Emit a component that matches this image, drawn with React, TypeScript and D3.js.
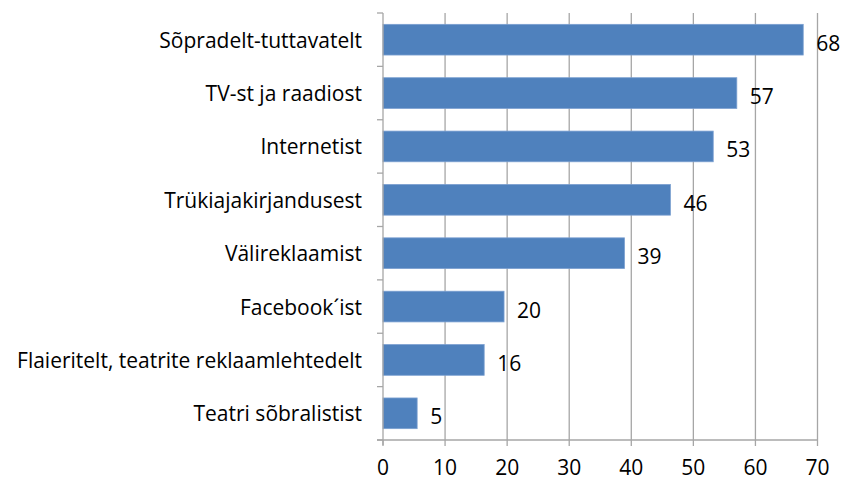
import React from "react";
import * as d3 from "d3";

const categories = [
  "Sõpradelt-tuttavatelt",
  "TV-st ja raadiost",
  "Internetist",
  "Trükiajakirjandusest",
  "Välireklaamist",
  "Facebook´ist",
  "Flaieritelt, teatrite reklaamlehtedelt",
  "Teatri sõbralistist",
];
const values = [67.7, 57.0, 53.2, 46.3, 38.9, 19.5, 16.3, 5.5];
const valueLabels = ["68", "57", "53", "46", "39", "20", "16", "5"];
const xTicks = [0, 10, 20, 30, 40, 50, 60, 70];

const W = 842;
const H = 481;
const left = 383;
const right = 817.5;
const top = 13;
const bottom = 440;
const font = "'Open Sans', sans-serif";
const fs = 21;

export default function App() {
  const x = d3.scaleLinear().domain([0, 70]).range([left, right]);
  const y = d3
    .scaleBand<string>()
    .domain(categories)
    .range([top, bottom])
    .paddingInner(0.425)
    .paddingOuter(0.2125);
  const step = y.step();
  const boundaries = d3.range(categories.length + 1).map((i) => top + i * step);

  return (
    <div style={{ position: "absolute", left: 0, top: 0 }}>
      <svg width={W} height={H} style={{ display: "block", background: "#fff" }}>
        {xTicks.slice(1).map((t) => (
          <line key={"g" + t} x1={x(t)} x2={x(t)} y1={top} y2={bottom} stroke="#a6a6a6" strokeWidth={1.3} />
        ))}
        {categories.map((c, i) => (
          <rect
            key={c}
            x={x(0)}
            y={y(c)!}
            width={x(values[i]) - x(0)}
            height={y.bandwidth()}
            fill="#4f81bd"
            stroke="#7a9fd0"
            strokeWidth={0.8}
          />
        ))}
        <line x1={left} x2={left} y1={top} y2={bottom + 5} stroke="#a6a6a6" strokeWidth={1.3} />
        {boundaries.map((b, i) => (
          <line key={"yt" + i} x1={left - 6} x2={left} y1={b} y2={b} stroke="#a6a6a6" strokeWidth={1.3} />
        ))}
        <line x1={left - 6} x2={right} y1={bottom} y2={bottom} stroke="#a6a6a6" strokeWidth={1.3} />
        {xTicks.map((t) => (
          <line key={"xt" + t} x1={x(t)} x2={x(t)} y1={bottom} y2={bottom + 6} stroke="#a6a6a6" strokeWidth={1.3} />
        ))}
        {xTicks.map((t) => (
          <text key={"xl" + t} x={x(t)} y={475} textAnchor="middle" fontFamily={font} fontSize={fs} fill="#000">
            {t}
          </text>
        ))}
        {categories.map((c) => (
          <text key={"cl" + c} x={362} y={y(c)! + y.bandwidth() / 2} textAnchor="end" dominantBaseline="central" fontFamily={font} fontSize={fs} fill="#000">
            {c}
          </text>
        ))}
        {categories.map((c, i) => (
          <text key={"vl" + c} x={x(values[i]) + 13} y={y(c)! + y.bandwidth() / 2 + 3} dominantBaseline="central" fontFamily={font} fontSize={fs} fill="#000">
            {valueLabels[i]}
          </text>
        ))}
      </svg>
    </div>
  );
}
